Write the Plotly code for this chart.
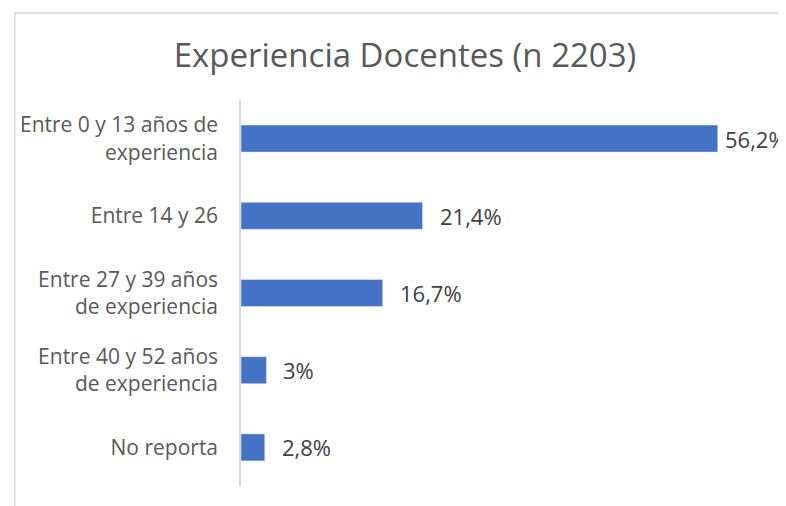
import plotly.graph_objects as go

categories = [
    "Entre 0 y 13 años de<br>experiencia",
    "Entre 14 y 26",
    "Entre 27 y 39 años<br>de experiencia",
    "Entre 40 y 52 años<br>de experiencia",
    "No reporta",
]
values = [56.2, 21.4, 16.7, 3.0, 2.8]
value_labels = ["56,2%", "21,4%", "16,7%", "3%", "2,8%"]

XMAX = 60
fig = go.Figure(go.Bar(
    x=values,
    y=categories,
    orientation="h",
    marker=dict(color="#4472C4"),
    cliponaxis=False,
    width=0.35,
    hoverinfo="skip",
))

annotations = []
for cat, v, lab in zip(categories, values, value_labels):
    annotations.append(dict(
        x=v, y=cat, xref="x", yref="y", text=lab, showarrow=False,
        xanchor="left", yanchor="middle", xshift=5 if v > 50 else 15,
        font=dict(family="Open Sans", size=22, color="#404040"),
    ))

PL, PT, PW, PH = 229, 92, 513, 386
fig.update_layout(
    width=786, height=506,
    margin=dict(l=PL, r=786 - PL - PW, t=PT, b=506 - PT - PH),
    paper_bgcolor="white", plot_bgcolor="white",
    showlegend=False,
    title=dict(text="Experiencia Docentes (n 2203)", x=397 / 786, xanchor="center",
               y=1 - 47 / 506, yanchor="middle",
               font=dict(family="Open Sans", size=33, color="#595959")),
    xaxis=dict(range=[0, XMAX], visible=False, showgrid=False, zeroline=False),
    yaxis=dict(autorange="reversed", showline=True, linecolor="#d9d9d9", linewidth=1.5,
               showgrid=False, ticks="", ticklabelstandoff=17,
               tickfont=dict(family="Open Sans", size=21, color="#595959")),
    annotations=annotations,
    shapes=[
        dict(type="line", xref="paper", yref="paper",
             x0=(1 - PL) / PW, x1=(800 - PL) / PW,
             y0=(PT + PH - 5) / PH, y1=(PT + PH - 5) / PH,
             line=dict(color="#d9d9d9", width=1.5)),
        dict(type="line", xref="paper", yref="paper",
             x0=(1 - PL) / PW, x1=(1 - PL) / PW,
             y0=(PT + PH - 5) / PH, y1=-0.2,
             line=dict(color="#d9d9d9", width=1.5)),
    ],
)

fig.write_html("out.html")
